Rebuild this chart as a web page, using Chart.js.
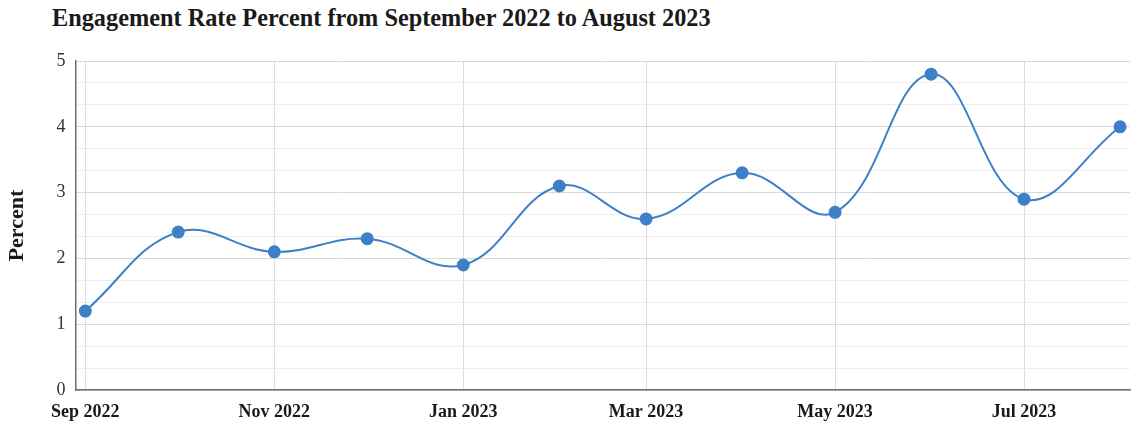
<!DOCTYPE html>
<html lang="en">
<head>
  <meta charset="UTF-8">
  <title>Engagement Rate</title>
  <script src="https://cdn.jsdelivr.net/npm/chart.js"></script>
  <style>
    body { margin: 0; background: #fff; }
    .wrap { position: relative; width: 1138px; height: 427px; }
    .title {
      position: absolute; left: 52px; top: 4px;
      font: bold 24.3px "Liberation Serif", serif; color: #1a1a1a;
    }
    canvas { position: absolute; left: 0; top: 0; }
  </style>
</head>
<body>
  <div class="wrap">
    <div class="title">Engagement Rate Percent from September 2022 to August 2023</div>
    <canvas id="rateChart" width="1138" height="427"></canvas>
  </div>

  <script>
    // monthly engagement rate
    const months = ['2022-09-01', '2022-10-01', '2022-11-01', '2022-12-01', '2023-01-01', '2023-02-01',
                    '2023-03-01', '2023-04-01', '2023-05-01', '2023-06-01', '2023-07-01', '2023-08-01'];
    const rates = [1.2, 2.4, 2.1, 2.3, 1.9, 3.1, 2.6, 3.3, 2.7, 4.8, 2.9, 4.0];
    const tickMonths = ['2022-09-01', '2022-11-01', '2023-01-01', '2023-03-01', '2023-05-01', '2023-07-01'];
    const tickLabels = ['Sep 2022', 'Nov 2022', 'Jan 2023', 'Mar 2023', 'May 2023', 'Jul 2023'];
    const yTicks = [0, 1, 2, 3, 4, 5];

    // days since the first month, so spacing follows the calendar
    const start = Date.parse(months[0]);
    const dayOf = d => (Date.parse(d) - start) / 86400000;
    const points = months.map((m, i) => ({ x: dayOf(m), y: rates[i] }));
    const xTickVals = tickMonths.map(dayOf);
    const lastDay = dayOf(months[months.length - 1]);

    const serif = '"Liberation Serif", serif';
    const blue = '#3d80c6';

    new Chart(document.getElementById('rateChart'), {
      type: 'line',
      data: {
        datasets: [{
          data: points,
          borderColor: blue,
          backgroundColor: blue,
          borderWidth: 2,
          pointRadius: 5.5,
          pointHoverRadius: 6,
          tension: 0.4
        }]
      },
      options: {
        responsive: false,
        animation: false,
        layout: { padding: { top: 61, right: 1, left: 4, bottom: 0 } },
        plugins: { legend: { display: false }, tooltip: { enabled: false } },
        scales: {
          x: {
            type: 'linear',
            min: -3.2,
            max: lastDay + 3.2,
            afterBuildTicks: s => { s.ticks = xTickVals.map(v => ({ value: v })); },
            afterFit: s => { s.height = 37; },
            ticks: {
              autoSkip: false,
              maxRotation: 0,
              color: '#1a1a1a',
              font: { family: serif, size: 18, weight: 'bold' },
              padding: 12,
              callback: (v) => tickLabels[xTickVals.indexOf(v)]
            },
            grid: { color: '#dcdcdc', lineWidth: 1, drawTicks: false },
            border: { color: '#6e6e6e', width: 1.5 }
          },
          y: {
            min: 0,
            max: 5,
            afterBuildTicks: s => {
              const t = [];
              for (let i = 0; i <= 15; i++) t.push({ value: i / 3 });
              s.ticks = t;
            },
            ticks: {
              autoSkip: false,
              color: '#333',
              font: { family: serif, size: 18 },
              padding: 10,
              callback: v => {
                const r = Math.round(v);
                return Math.abs(v - r) < 1e-6 && yTicks.includes(r) ? String(r) : '';
              }
            },
            grid: {
              drawTicks: false,
              color: ctx => {
                const v = ctx.tick ? ctx.tick.value : 0;
                return Math.abs(v - Math.round(v)) < 1e-6 ? '#d9d9d9' : '#ededed';
              }
            },
            border: { color: '#6e6e6e', width: 1.5 },
            title: {
              display: true,
              text: 'Percent',
              color: '#1a1a1a',
              font: { family: serif, size: 22, weight: 'bold' },
              padding: { top: 0, bottom: 16 }
            }
          }
        }
      }
    });
  </script>
</body>
</html>
